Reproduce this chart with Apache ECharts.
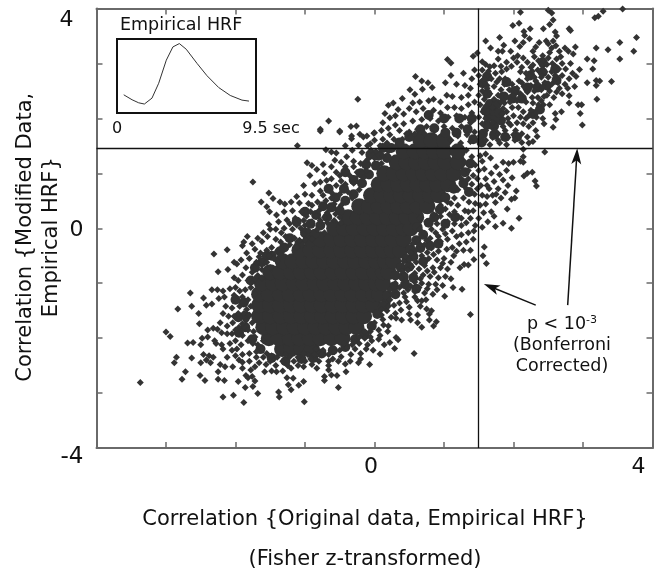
<!DOCTYPE html>
<html><head><meta charset="utf-8">
<style>html,body{margin:0;padding:0;background:#fff}#c{width:656px;height:568px}</style>
<script src="https://cdn.jsdelivr.net/npm/echarts@6/dist/echarts.min.js"></script>
</head><body><div id="c"></div>
<script>
// threshold values (Fisher z)
const thresholdX = 1.49, thresholdY = 1.45;
const axisTickLabels = ['-4', '0', '4'];
// dense mass of the cloud, read row by row: [y, [x...]]
const coreRows = [
[-2.2,[-1.33,-1.2,-1.05,-0.9]],
[-2.0,[-1.52,-1.38,-1.22,-1.08,-0.93,-0.78,-0.62,-0.46]],
[-1.8,[-1.6,-1.46,-1.3,-1.15,-1.0,-0.85,-0.7,-0.55,-0.4,-0.26]],
[-1.6,[-1.66,-1.5,-1.35,-1.2,-1.05,-0.9,-0.75,-0.6,-0.45,-0.3,-0.15]],
[-1.4,[-1.66,-1.5,-1.36,-1.2,-1.06,-0.9,-0.76,-0.6,-0.46,-0.3,-0.16,-0.02]],
[-1.2,[-1.66,-1.52,-1.36,-1.22,-1.06,-0.92,-0.76,-0.62,-0.46,-0.32,-0.16,-0.02,0.07]],
[-1.0,[-1.62,-1.46,-1.32,-1.16,-1.02,-0.86,-0.72,-0.56,-0.42,-0.26,-0.12,0.02,0.12]],
[-0.8,[-1.5,-1.36,-1.2,-1.06,-0.9,-0.76,-0.6,-0.46,-0.3,-0.16,0,0.12,0.2]],
[-0.6,[-1.32,-1.18,-1.02,-0.88,-0.72,-0.58,-0.42,-0.28,-0.12,0.02,0.15,0.27]],
[-0.4,[-1.08,-0.92,-0.78,-0.62,-0.48,-0.32,-0.18,-0.02,0.12,0.25,0.37]],
[-0.2,[-0.92,-0.78,-0.62,-0.48,-0.32,-0.18,-0.02,0.12,0.26,0.42]],
[0,[-0.58,-0.44,-0.3,-0.14,0,0.14,0.28,0.42,0.52]],
[0.2,[-0.38,-0.24,-0.1,0.04,0.18,0.32,0.46,0.6]],
[0.4,[-0.22,-0.08,0.06,0.2,0.34,0.48,0.62,0.76]],
[0.6,[-0.05,0.1,0.24,0.38,0.52,0.66,0.8,0.92]],
[0.8,[0.06,0.2,0.34,0.48,0.62,0.76,0.9,1.06]],
[1.0,[0.14,0.28,0.42,0.56,0.7,0.84,0.98,1.14]],
[1.2,[0.32,0.46,0.6,0.74,0.88,1.02,1.2]],
[1.4,[0.42,0.58,0.72,0.86,1.0,1.2]],
[1.6,[0.66,0.82,1.0]]
];
// crowded clumps next to the mass, where marks merge
const clumpPoints = [
[-1.3,-0.35],[-1.22,-0.18],[-1.08,-0.28],[-1.0,-0.08],[-0.86,-0.1],[-0.92,0.08],[-0.78,0.05],[-0.84,0.24],[-0.68,0.2],[-0.62,0.38],[-0.74,0.4],[-0.5,0.32],[-0.56,0.56],[-0.42,0.5],[-0.3,0.62],[-0.44,0.72],[-0.3,0.88],[-0.18,0.82],[-0.2,1.0],[-0.08,0.98],[-0.12,1.16],[0.02,1.14],[0.06,1.32],[0.18,1.28],[0.24,1.46],[0.36,1.56],[0.5,1.66],[0.66,1.8],[0.86,1.82],[1.02,1.74],[1.18,1.74],[1.34,1.8],[1.42,1.62],[-1.0,0.3],[-1.12,0.12],[-0.66,0.72],[-0.42,1.02],[-0.06,1.34],[0.12,1.46],[0.78,2.06],[1.0,2.0],[1.22,2.0],[1.4,2.0],
[0.62,0.02],[0.7,-0.12],[0.78,0.1],[0.86,0.2],[0.94,0.34],[0.6,-0.22],[0.52,-0.38],[0.66,-0.36],[0.46,-0.56],[0.56,-0.52],[0.38,-0.72],[0.5,-0.7],[0.3,-0.86],[0.42,-0.88],[0.28,-1.06],[0.18,-1.22],[0.3,-1.2],[0.16,-1.38],[0.04,-1.56],[0.12,-1.42],[-0.04,-1.78],[-0.14,-1.94],[-0.28,-2.02],[-0.42,-2.16],[-0.6,-2.22],[-0.76,-2.28],[1.02,0.56],[1.14,0.72],[1.28,0.82],[1.3,1.02],[1.38,1.18],[1.36,0.66],[1.16,0.2],[1.02,0.08],[0.8,-0.32],[0.7,-0.6],[0.56,-0.9],[0.44,-1.02],[0.92,-0.28],[0.6,-1.1],
[1.62,1.88],[1.72,1.86],[1.82,1.96],[1.64,2.02],[1.74,2.02],[1.6,2.14],[1.72,2.14],[1.8,2.1],[1.66,2.26],[1.76,2.26],[1.9,2.66],[1.86,2.4],[2.02,2.5],[2.2,2.56],[2.34,2.56],[2.48,2.6],[2.12,2.36],[1.98,2.36],[2.42,2.84],[2.24,2.78],[2.62,2.7],[2.6,2.9],[2.42,3.02],[1.56,2.64],[1.62,2.76],[1.56,1.72],[1.72,1.7],[1.88,1.66],[2.05,1.66],[1.54,1.56],[1.62,2.45],[2.28,2.08],[2.38,2.16],
[-1.85,-1.6],[-1.88,-1.35],[-1.86,-1.8],[-1.76,-2.02],[-1.64,-2.2],[-1.48,-2.36],[-1.28,-2.42],[-1.05,-2.38],[-0.88,-2.36],[-1.62,-0.62],[-1.72,-0.72],[-1.78,-0.95],[-1.48,-0.5],[-1.36,-0.42],[-1.55,-0.5],[-1.95,-1.9],[-1.96,-1.62],[-2.0,-1.3]
];
// individually read marks around the mass
const fringeUpperRight = [
[3.57,3.99],[3.29,3.95],[3.22,3.86],[3.17,3.83],[3.77,3.47],[3.53,3.38],[3.73,3.22],[3.53,3.08],[3.36,3.25],[3.19,3.28],[3.06,3.08],[3.16,3.05],[3.14,2.9],[3.41,2.67],[3.06,2.65],[3.19,2.69],[3.24,2.68],[3.19,2.6],[3.2,2.35],[2.95,2.89],[2.9,2.76],[2.88,2.58],[2.8,2.41],[2.8,2.28],[2.93,2.25],[2.98,2.25],[2.96,2.09],[2.99,1.88],[2.57,1.84],[2.69,2.12],[2.61,1.98],[2.6,2.09],[2.52,2.25],[2.43,2.25],[2.33,2.1],[2.34,1.67],[2.45,1.39],[2.14,1.44],
[2.5,3.97],[2.55,3.92],[2.1,3.93],[2.08,3.73],[1.99,3.69],[2.57,3.79],[2.52,3.71],[2.43,3.63],[2.24,3.63],[2.15,3.58],[2.16,3.51],[2.6,3.57],[2.62,3.5],[2.8,3.63],[2.82,3.6],[1.8,3.47],[1.6,3.41],[1.86,3.33],[2.02,3.41],[2.23,3.45],[2.37,3.38],[2.14,3.38],[2.09,3.31],[2.47,3.41],[2.57,3.41],[2.55,3.28],[2.89,3.3],[2.74,3.28],[2.79,3.22],[2.86,3.17],[2.28,3.22],[1.67,3.28],[1.78,3.22],[1.84,3.22],[1.48,3.19],[1.42,3.13],[1.05,3.07],[1.1,3.01],[2.32,3.3],[2.61,3.32],[2.5,3.36],[2.06,3.14],[2.0,3.1],[2.14,3.1],
[1.55,3.03],[1.6,2.98],[1.72,2.96],[1.78,3.08],[1.9,3.02],[1.97,2.95],[2.05,3.02],[2.12,2.93],[2.2,3.02],[2.28,2.97],[2.36,3.05],[2.42,2.95],[2.5,3.1],[2.56,3.0],[2.62,3.08],[2.7,3.0],[2.75,2.9],[2.82,3.0],[2.65,2.9],[2.55,2.85],[2.45,2.85],[2.35,2.88],[2.27,2.86],[2.18,2.82],[2.1,2.85],[1.9,2.9],[1.83,2.85],[1.74,2.82],[1.64,2.86],[1.55,2.88],[1.5,2.78],
[1.58,2.72],[1.68,2.72],[1.8,2.72],[1.87,2.62],[1.98,2.62],[2.08,2.68],[2.2,2.72],[2.3,2.75],[2.4,2.75],[2.5,2.75],[2.6,2.78],[2.7,2.78],[2.8,2.72],[2.74,2.62],[2.64,2.65],[2.55,2.62],[2.45,2.65],[2.35,2.62],[2.25,2.6],[2.15,2.58],[2.05,2.55],[1.94,2.52],[1.82,2.52],[1.72,2.58],[1.62,2.6],[1.52,2.62],
[1.55,2.5],[1.66,2.45],[1.78,2.42],[1.9,2.4],[2.0,2.42],[2.1,2.45],[2.2,2.48],[2.3,2.5],[2.4,2.52],[2.52,2.5],[2.62,2.48],[2.7,2.45],[2.05,2.32],[1.95,2.3],[1.87,2.28],[1.98,2.2],[2.07,2.2],[2.27,2.38],[2.35,2.38],[2.44,2.4],[2.28,2.28],[2.36,2.25],[2.25,2.15],[2.33,2.02],[2.22,2.05],[2.14,2.12],[2.1,2.02],[2.0,2.05],[1.9,2.12],[1.92,2.0],[1.84,2.08],[1.5,2.42],[1.58,2.35],[1.52,2.25],[1.56,2.12],[1.5,2.02],[1.55,1.9],[1.6,1.78],[1.52,1.68],[1.6,1.6],[1.7,1.65],[1.78,1.72],[1.88,1.78],[1.96,1.88],[2.05,1.92],[2.14,1.9],[2.22,1.85],[2.32,1.78],[2.03,1.78],[2.12,1.72],[2.2,1.66],[1.92,1.65],[2.02,1.6],[2.12,1.56],[2.22,1.55],[2.28,1.58],[1.8,1.55],[1.9,1.52],[1.66,1.52],[1.73,1.78],[2.42,2.0],[2.44,1.9],
[1.62,2.55],[1.72,2.35],[1.82,2.3],[1.7,2.2],[1.85,2.18],[1.6,2.22],[1.93,1.92],[1.85,1.85],[1.7,1.92],[1.6,2.0],[2.18,2.3],[2.12,2.36],[2.4,2.32],[2.48,2.42],[2.58,2.38],[2.66,2.55],[2.78,2.55],[2.85,2.82],[2.32,2.68],[2.42,2.58],[2.12,2.65],[1.88,2.72],[1.76,2.66],[1.66,2.94],[1.82,2.95],[2.25,2.93],[2.48,2.98],[2.6,2.95],[2.68,3.12],[2.42,3.14],[2.3,3.12],[1.96,3.22],[2.52,3.2],[2.66,3.22],[2.18,2.0],[2.28,1.92],[2.0,1.7],[1.78,1.6]
];
const fringeRight = [
[2.27,1.02],[2.31,0.86],[2.33,0.77],[2.15,0.95],[2.2,1.0],[2.04,0.68],[1.88,0.65],[1.97,0.53],[2.02,0.55],[1.91,0.35],[2.08,0.18],[1.85,0.09],[1.97,0],[1.74,0.47],[1.6,0.44],[2.14,1.3],[2.14,1.2],[2.1,1.22],[2.0,1.2],[1.93,1.18],[1.85,1.2],[1.75,1.12],[1.67,1.28],[1.6,1.35],[1.55,1.22],[1.58,1.08],[1.68,1.0],[1.8,0.98],[1.9,1.05],[1.98,0.92],[1.85,0.88],[1.72,0.85],[1.6,0.9],[1.53,0.78],[1.65,0.72],[1.78,0.72],[1.92,0.78],[1.55,0.6],[1.62,0.58],[1.75,0.62],[1.52,0.42],[1.57,0.28],[1.68,0.3],[1.72,0.22],[1.63,0.12],[1.74,0.03],[1.55,0.02],[1.45,0.05],[1.38,0.18],[1.42,0.32],[1.36,0.48],[1.44,0.62],[1.4,0.8],[1.42,0.96],[1.45,1.15],[1.4,1.3],[1.32,0.1],[1.3,0.32],[1.28,0.55],[1.32,0.72],[1.35,0.9],[1.25,0.05],[1.2,0.22],[1.15,0.3],[1.05,0.12],[1.12,-0.05],[1.25,-0.12],[1.35,-0.08],[1.43,-0.05],[1.58,-0.34],[1.56,-0.5],[1.61,-0.64],[1.43,-0.57],[1.35,-0.67],[1.29,-0.66],[1.23,-0.72],[1.26,-1.11],[1.13,-1.08],[1.01,-1.24],[1.38,-1.57],[1.28,-0.4],[1.22,-0.28],[1.18,-0.42],[1.12,-0.35],[1.05,-0.2],[0.98,-0.02],[0.9,0.08],[0.82,-0.02],[0.95,0.22],[1.02,0.35],[1.1,0.45],[1.2,0.42],
[1.3,1.2],[1.35,1.05],[1.25,0.9],[1.2,0.7],[1.15,0.55],[1.05,0.48],[0.95,0.42],[0.85,0.25],[0.75,0.12],[0.65,-0.02],[1.08,0.25],[1.25,0.18],[1.35,0.3],[1.45,0.45],[1.5,0.18],[1.48,0.9],[1.5,1.05],[1.52,1.32],[1.48,0.72],[1.62,0.78],[1.7,0.6],[1.82,0.55],[1.15,0.08],[1.18,-0.15],[1.02,-0.1],[0.92,-0.15],[0.75,-0.22],[1.32,-0.25],[1.42,-0.2],[1.38,-0.4],[0.65,0.18]
];
const fringeLowerRight = [
[0.82,-1.5],[0.75,-1.47],[0.79,-1.56],[0.79,-1.67],[0.89,-1.7],[0.85,-1.78],[0.68,-1.8],[0.62,-1.72],[0.62,-1.58],[0.52,-1.67],[0.5,-1.56],[0.38,-1.49],[0.39,-1.67],[0.3,-1.55],[0.31,-1.64],[0.13,-1.76],[0.19,-1.88],[0.31,-1.99],[0.34,-2.03],[0.29,-2.19],[0.57,-2.28],[0.08,-2.29],[0.68,-1.32],[0.62,-1.32],[0.46,-1.34],[0.44,-1.25],
[0.72,-0.1],[0.8,-0.18],[0.88,-0.08],[0.95,-0.24],[1.04,-0.38],[0.92,-0.42],[0.82,-0.36],[0.72,-0.3],[0.62,-0.2],[0.6,-0.4],[0.68,-0.5],[0.78,-0.55],[0.9,-0.58],[1.0,-0.55],[1.1,-0.62],[1.05,-0.74],[0.95,-0.72],[0.84,-0.72],[0.72,-0.68],[0.6,-0.62],[0.5,-0.58],[0.48,-0.76],[0.58,-0.82],[0.7,-0.85],[0.8,-0.88],[0.92,-0.9],[1.02,-0.88],[1.1,-0.92],[0.98,-1.04],[0.88,-1.02],[0.78,-1.02],[0.68,-1.0],[0.58,-0.98],[0.46,-0.96],[0.38,-0.9],[0.36,-1.08],[0.48,-1.12],[0.58,-1.15],[0.72,-1.18],[0.84,-1.2],[0.3,-1.22],[0.22,-1.3],[0.28,-1.4],[0.18,-1.5],[0.1,-1.58],[0.0,-1.72],[0.06,-1.85],[-0.06,-1.88],[-0.14,-2.0],[-0.04,-2.05],[0.06,-2.02],[-0.22,-2.1],[-0.12,-2.2],[-0.02,-2.22],[-0.23,-2.45],[-0.07,-2.48],[-0.41,-2.61],[-0.42,-2.47],[-0.35,-2.42],[-0.34,-2.3],[-0.28,-2.2],[-0.2,-2.28],[-0.4,-2.18],[-0.5,-2.22],[-0.48,-2.34],[-0.58,-2.25],[-0.66,-2.3],[-0.6,-2.38],
[0.55,-0.28],[0.52,-0.45],[0.42,-0.6],[0.4,-0.78],[0.3,-1.0],[0.42,-1.18],[0.22,-1.12],[0.2,-1.42],[0.12,-1.66],[0.1,-1.48],[0.24,-1.62],[0.36,-1.36],[0.5,-1.44],[0.58,-1.25],[0.66,-1.42],[0.74,-1.3],[0.52,-1.05],[0.64,-1.08],[0.76,-1.1],[0.9,-1.12],[0.66,-0.92],[0.86,-0.8],[0.76,-0.78],[0.64,-0.74],[0.54,-0.7],[0.98,-0.64],[1.14,-0.5],[0.85,-0.48],[0.76,-0.44],[0.66,-0.3],[0.2,-1.78],[0.08,-1.95],[-0.06,-1.98],[-0.14,-1.88],[-0.22,-1.98],[-0.3,-2.06],[-0.32,-2.12],[-0.44,-2.1],[-0.1,-2.12],[0.14,-2.12],[0.22,-2.08],[-0.2,-2.38],[-0.52,-2.42],[-0.74,-2.22],[-0.84,-2.2],[-0.96,-2.3]
];
const fringeBottom = [
[-0.52,-2.9],[-0.54,-2.68],[-0.62,-2.67],[-0.72,-2.7],[-0.72,-2.77],[-0.66,-2.42],[-0.66,-2.5],[-0.66,-2.58],[-0.83,-2.55],[-0.9,-2.48],[-1.02,-2.79],[-1.09,-2.86],[-1.2,-2.94],[-1.24,-2.85],[-1.17,-2.73],[-1.26,-2.72],[-1.41,-2.61],[-1.58,-2.61],[-1.72,-2.78],[-1.75,-2.88],[-1.86,-2.9],[-1.96,-2.79],[-2.16,-2.77],[-2.25,-2.75],[-2.25,-2.61],[-2.22,-2.48],[-2.15,-2.52],[-2.04,-2.52],[-2.18,-3.07],[-2.03,-3.04],[-1.88,-3.17],[-1.68,-3.01],[-1.38,-2.98],[-1.37,-3.07],[-1.01,-3.16],
[-0.8,-2.42],[-0.92,-2.38],[-1.02,-2.52],[-1.1,-2.5],[-1.0,-2.42],[-1.16,-2.42],[-1.25,-2.5],[-1.32,-2.42],[-1.32,-2.6],[-1.4,-2.35],[-1.48,-2.6],[-1.5,-2.42],[-1.6,-2.35],[-1.66,-2.45],[-1.72,-2.52],[-1.78,-2.58],[-1.8,-2.42],[-1.85,-2.68],[-1.9,-2.55],[-1.82,-2.72],[-1.76,-2.7],[-1.95,-2.4],[-1.9,-2.3],[-2.0,-2.32],[-1.8,-2.28],[-1.7,-2.25],[-1.62,-2.2],[-1.55,-2.28],[-1.48,-2.32],[-1.1,-2.35],[-0.86,-2.3],[-0.76,-2.3],[-1.22,-2.34],[-1.9,-2.44],
[-1.75,-2.1],[-1.68,-2.12],[-1.72,-1.98],[-1.6,-2.05],[-1.42,-2.5],[-1.2,-2.55],[-1.56,-2.48],[-1.7,-2.35],[-1.28,-2.3],[-1.02,-2.28]
];
const fringeLowerLeft = [
[-3.37,-2.81],[-3,-1.89],[-2.94,-1.97],[-2.83,-1.47],[-2.65,-1.18],[-2.63,-1.42],[-2.46,-1.27],[-2.53,-1.55],[-2.52,-1.74],[-2.31,-0.47],[-2.12,-0.39],[-2.25,-0.79],[-2.11,-0.75],[-2.34,-1.12],[-2.69,-2.09],[-2.61,-2.08],[-2.5,-2.12],[-2.85,-2.35],[-2.88,-2.45],[-2.63,-2.36],[-2.72,-2.61],[-2.77,-2.75],[-2.51,-2.68],[-2.44,-2.77],
[-2.42,-2.4],[-2.38,-2.32],[-2.46,-2.3],[-2.32,-2.35],[-2.5,-2.45],[-2.36,-2.45],[-2.28,-2.1],[-2.2,-2.12],[-2.18,-2.2],[-2.3,-2.05],[-2.4,-1.85],[-2.32,-1.82],[-2.26,-1.84],[-2.2,-1.9],[-2.12,-1.92],[-2.48,-2.0],[-2.4,-1.98],[-2.22,-1.72],[-2.12,-1.78],[-2.04,-1.72],[-1.95,-1.8],[-2.05,-1.92],[-2.08,-2.1],[-2.0,-2.05],[-1.92,-2.12],[-1.82,-2.05],[-2.05,-2.22],[-1.98,-2.2],[-2.12,-2.35],
[-2.42,-1.4],[-2.34,-1.38],[-2.26,-1.12],[-2.18,-1.14],[-2.16,-1.25],[-2.24,-1.28],[-2.08,-1.1],[-2.0,-1.08],[-2.14,-1.42],[-2.05,-1.45],[-2.18,-1.55],[-2.1,-1.6],[-2.02,-1.6],[-1.94,-1.42],[-1.88,-1.55],[-1.85,-1.68],[-1.9,-1.25],[-1.82,-1.3],[-1.86,-1.12],[-1.96,-0.95],[-2.02,-0.9],[-1.9,-0.85],[-1.98,-0.65],[-2.02,-0.62],[-1.92,-0.58],[-1.8,-0.55],[-1.85,-0.72],[-1.76,-0.8],[-1.72,-0.92],[-1.82,-0.95],[-1.78,-1.08],[-1.84,-0.45],[-1.9,-0.32],[-1.83,-0.15],[-1.88,-0.25],[-1.72,-0.38],[-1.64,-0.45],[-1.76,-0.28],[-1.62,-0.24],[-1.54,-0.15],[-1.68,-0.18],[-1.6,-0.6],[-1.55,-0.4],[-1.7,-0.62],[-1.62,-0.75],[-1.55,-0.62],[-1.45,-0.55],[-1.48,-0.35],[-1.4,-0.42],[-1.35,-0.25],[-1.42,-0.2],[-1.5,-0.02],
[-1.78,-1.42],[-1.84,-1.48],[-1.8,-1.58],[-1.76,-1.72],[-1.9,-1.74],[-1.82,-1.85],[-1.74,-1.88],[-1.9,-1.95],[-1.98,-1.32],[-2.02,-1.22],[-1.94,-1.14],[-1.72,-1.2],[-1.68,-0.86],[-1.62,-0.9],[-1.5,-0.72],[-1.96,-1.55],[-2.0,-1.85],[-1.66,-0.52],[-1.52,-0.5],[-1.4,-0.6]
];
const fringeUpperLeft = [
[-0.24,2.35],[-0.66,1.95],[-0.78,1.8],[-0.5,1.77],[-0.34,1.85],[-0.26,1.86],[-1.11,1.5],[-0.33,1.68],[-0.21,1.71],[-0.11,1.68],
[0.59,2.76],[0.68,2.68],[0.77,2.65],[0.83,2.56],[0.51,2.52],[0.69,2.53],[0.58,2.44],[0.4,2.36],[0.27,2.28],[0.2,2.24],[0.34,2.16],[0.15,2.09],[0.22,2.01],[0.12,1.92],[0,1.74],[1.02,2.65],[1.1,2.78],[1.28,2.82],[1.18,2.62],[1.3,2.6],[1.38,2.55],[1.44,2.88],[1.4,2.72],[1.35,2.42],[1.25,2.38],[1.12,2.4],[1.04,2.42],[0.95,2.3],[0.85,2.35],[0.78,2.32],[0.65,2.3],[0.55,2.28],[0.7,2.18],[0.6,2.12],[0.5,2.18],[0.42,2.08],[0.3,2.05],[0.85,2.15],[0.95,2.1],[1.05,2.2],[1.15,2.2],[1.25,2.18],[1.35,2.25],[1.44,2.3],[1.4,2.1],[1.3,2.02],[1.18,2.05],[1.06,2.02],[0.92,1.95],[0.8,2.0],[0.68,1.98],[0.55,1.95],[0.42,1.9],[0.3,1.88],[0.2,1.82],[0.1,1.78],[0.5,1.75],[0.62,1.8],[0.75,1.85],[0.88,1.8],[1.0,1.85],[1.12,1.82],[1.25,1.85],[1.38,1.92],[1.44,1.75],[1.33,1.7],[1.2,1.68],[1.38,1.58],
[-1.75,0.84],[-1.52,0.64],[-1.46,0.54],[-1.63,0.48],[-1.55,0.39],[-1.51,0.3],[-1.52,0.07],[-1.36,0.48],[-1.29,0.44],[-1.41,0.24],[-0.97,1.19],[-0.9,1.14],[-0.83,1.07],[-0.74,1.16],[-0.7,1.43],[-0.62,1.39],[-0.55,1.37],[-0.57,1.24],[-0.93,0.96],[-1.02,0.78],[-0.86,0.81],[-0.78,0.84],[-0.69,0.87],[-0.55,1.02],[-0.5,0.96],[-0.4,1.3],[-0.33,1.63],[-0.16,1.66],[-0.23,1.51],[-0.06,1.54],[-0.78,1.77],[-0.5,1.75],[-0.01,1.73],
[-0.42,1.5],[-0.32,1.42],[-0.18,1.38],[-0.05,1.42],[0.08,1.5],[0.18,1.55],[0.28,1.62],[-0.3,1.22],[-0.42,1.12],[-0.2,1.18],[-0.1,1.25],[0,1.28],[0.12,1.32],[-0.35,0.95],[-0.25,1.02],[-0.12,1.05],[-0.42,0.8],[-0.55,0.78],[-0.3,0.82],[-0.62,0.65],[-0.5,0.62],[-0.38,0.66],[-0.78,0.68],[-0.9,0.6],[-1.0,0.62],[-1.12,0.58],[-1.2,0.48],[-1.08,0.46],[-0.95,0.45],[-0.82,0.48],[-0.7,0.5],[-0.58,0.44],[-0.48,0.42],[-1.3,0.3],[-1.18,0.32],[-1.05,0.3],[-0.92,0.3],[-0.8,0.32],[-0.68,0.28],[-0.56,0.26],[-1.38,0.12],[-1.26,0.15],[-1.14,0.18],[-1.02,0.14],[-0.9,0.12],[-0.78,0.14],[-0.68,0.1],[-1.6,-0.08],[-1.42,-0.02],[-1.3,0.0],[-1.18,-0.02],[-1.06,0.0],[-0.95,-0.04],[-0.82,-0.02],[-0.72,-0.08],[-1.28,-0.15],[-1.15,-0.18],[-1.02,-0.12],[-1.22,-0.3],[-1.12,-0.34],
[-0.62,1.12],[-0.48,1.2],[-0.72,1.0],[-0.62,0.9],[-0.48,0.86],[-0.3,1.12],[-0.16,0.92],[-0.22,0.7],[-0.32,0.55],[-0.42,0.52],[-0.62,0.55],[-0.74,0.6],[-0.9,0.42],[-0.98,0.22],[-0.84,0.22],[-0.72,0.2],[-0.58,0.14],[-0.5,0.2],[-0.48,0.1],[0.1,1.18],[0.2,1.4],[0.3,1.48],[0.02,1.4],[-0.1,1.5],[0.0,1.6],[0.12,1.62],[0.4,1.62],[0.46,1.72],[0.58,1.72],[0.72,1.72],[0.85,1.68],[1.1,1.6],[1.24,1.55],[1.32,1.42],[0.22,1.7],[0.36,1.78],[-1.0,-0.22],[-0.9,-0.2],[-1.08,-0.22],[-1.34,-0.08],[-1.22,0.08],[-1.12,0.06],[-1.0,0.05]
];
// inset: empirical haemodynamic response
const hrfSeconds = [0.46,1.03,1.48,1.87,2.39,2.85,3.37,3.82,4.26,4.73,5.47,6.15,6.95,7.74,8.54,9.02];
const hrfValues = [0.246,0.179,0.138,0.121,0.201,0.402,0.714,0.893,0.938,0.862,0.67,0.504,0.344,0.237,0.174,0.161];
// arrows from the annotation: [fromX, fromY, toX, toY]
const arrowToVertical = [2.32,-1.4,1.68,-1.07];
const arrowToHorizontal = [2.78,-1.4,2.91,1.31];
const annotationLines = ['p < 10', '-3', '(Bonferroni', 'Corrected)'];

const corePoints = coreRows.flatMap(r => r[1].map(x => [x, r[0]]));
const fringePoints = [].concat(fringeUpperRight, fringeRight, fringeLowerRight, fringeBottom, fringeLowerLeft, fringeUpperLeft);
const INK = '#333333', FONT = '"DejaVu Sans", Verdana, sans-serif';
const AX = '#6a6a6a';
const ARROW = 'path://M5,0 L10,16 L5,12 L0,16 Z';
const chart = echarts.init(document.getElementById('c'), null, {renderer:'canvas'});
const pad = { x4:[0,28,0,0], x0:[0,7,0,0], y4:[24,10,0,0], y0:[4,0,0,0], ym4:[18,0,0,0] };
const mirrorAxis = {type:'value',gridIndex:0,min:-4,max:4,interval:1,splitLine:{show:false},axisLabel:{show:false},
  axisLine:{show:true,onZero:false,lineStyle:{color:AX,width:2}},axisTick:{inside:true,length:6,lineStyle:{color:AX,width:1.5}}};
chart.setOption({
  animation:false,
  backgroundColor:'#fff',
  title:{text:'Empirical HRF',left:115,top:11,textStyle:{fontFamily:FONT,fontSize:17.5,fontWeight:'normal',color:'#111'}},
  grid:[
    {left:96.5,right:3.5,top:8.5,height:439.5,show:false,containLabel:false,outerBoundsMode:'none'},
    {left:117,top:39,width:139,height:74,show:true,borderColor:'#111',borderWidth:2,backgroundColor:'#fff',z:5,containLabel:false,outerBoundsMode:'none'}
  ],
  xAxis:[
    {type:'value',gridIndex:0,min:-4,max:4,interval:1,splitLine:{show:false},
     axisLine:{show:true,onZero:false,lineStyle:{color:AX,width:2}},
     axisTick:{inside:true,length:6,lineStyle:{color:AX,width:1.5}},
     axisLabel:{margin:8,fontFamily:FONT,fontSize:22,color:'#111',showMinLabel:true,showMaxLabel:true,
       formatter:v=>v===4?'{a|'+axisTickLabels[2]+'}':v===0?'{b|'+axisTickLabels[1]+'}':'',
       rich:{a:{fontFamily:FONT,fontSize:22,color:'#111',padding:pad.x4},b:{fontFamily:FONT,fontSize:22,color:'#111',padding:pad.x0}}},
     name:'Correlation {Original data, Empirical HRF}\n(Fisher z-transformed)',nameLocation:'middle',nameGap:52,nameMoveOverlap:false,
     nameTextStyle:{fontFamily:FONT,fontSize:21,color:'#111',lineHeight:40,padding:[0,19,0,0]}},
    {type:'value',gridIndex:1,min:0,max:9.5,interval:9.5,splitLine:{show:false},
     axisLine:{show:false},axisTick:{show:false},
     axisLabel:{margin:8,fontFamily:FONT,fontSize:16,color:'#111',showMinLabel:true,showMaxLabel:true,
       formatter:v=>v===0?'0':'{s|9.5 sec}',rich:{s:{fontFamily:FONT,fontSize:16,color:'#111',padding:[0,0,0,30]}}}},
    Object.assign({position:'top'},mirrorAxis)
  ],
  yAxis:[
    {type:'value',gridIndex:0,min:-4,max:4,interval:1,splitLine:{show:false},
     axisLine:{show:true,onZero:false,lineStyle:{color:AX,width:2}},
     axisTick:{inside:true,length:6,lineStyle:{color:AX,width:1.5}},
     axisLabel:{margin:13,fontFamily:FONT,fontSize:22,color:'#111',showMinLabel:true,showMaxLabel:true,
       formatter:v=>v===4?'{a|'+axisTickLabels[2]+'}':v===0?'{b|'+axisTickLabels[1]+'}':v===-4?'{c|'+axisTickLabels[0]+'}':'',
       rich:{a:{fontFamily:FONT,fontSize:22,color:'#111',padding:pad.y4},b:{fontFamily:FONT,fontSize:22,color:'#111',padding:pad.y0},c:{fontFamily:FONT,fontSize:23,color:'#111',padding:pad.ym4}}},
     name:'Correlation {Modified Data,\nEmpirical HRF}',nameLocation:'middle',nameGap:32,nameRotate:90,nameMoveOverlap:false,
     nameTextStyle:{fontFamily:FONT,fontSize:21,color:'#111',lineHeight:26,padding:[0,18,0,0]}},
    {type:'value',gridIndex:1,min:0,max:1,show:false},
    Object.assign({position:'right'},mirrorAxis)
  ],
  series:[
    {name:'dense mass',type:'scatter',xAxisIndex:0,yAxisIndex:0,data:corePoints,symbol:'circle',symbolSize:16,itemStyle:{color:INK,opacity:1},silent:true},
    {name:'crowded clumps',type:'scatter',xAxisIndex:0,yAxisIndex:0,data:clumpPoints,symbol:'circle',symbolSize:10,itemStyle:{color:INK,opacity:1},silent:true},
    {name:'correlations',type:'scatter',xAxisIndex:0,yAxisIndex:0,data:fringePoints,symbol:'diamond',symbolSize:7,itemStyle:{color:INK,opacity:1},silent:true,
     markLine:{silent:true,symbol:'none',label:{show:false},animation:false,
       data:[
         {xAxis:thresholdX,lineStyle:{color:'#111',width:1.3,type:'solid'}},
         {yAxis:thresholdY,lineStyle:{color:'#111',width:1.3,type:'solid'}},
         [{coord:arrowToVertical.slice(0,2),symbol:'none'},{coord:arrowToVertical.slice(2,4),symbol:ARROW,symbolSize:[10,16],lineStyle:{color:'#111',width:1.5,type:'solid'}}],
         [{coord:arrowToHorizontal.slice(0,2),symbol:'none'},{coord:arrowToHorizontal.slice(2,4),symbol:ARROW,symbolSize:[10,16],lineStyle:{color:'#111',width:1.5,type:'solid'}}]
       ]}},
    {name:'Empirical HRF',type:'line',xAxisIndex:1,yAxisIndex:1,data:hrfSeconds.map((s,i)=>[s,hrfValues[i]]),showSymbol:false,lineStyle:{color:'#333',width:1},z:6}
  ],
  graphic:[
    {type:'text',z:10,x:562,y:324,style:{text:annotationLines[0]+'{s|'+annotationLines[1]+'}',align:'center',verticalAlign:'middle',fontFamily:FONT,fontSize:17.5,fill:'#111',rich:{s:{fontFamily:FONT,fontSize:11,verticalAlign:'top',fill:'#111'}}}},
    {type:'text',z:10,x:562,y:345,style:{text:annotationLines[2],align:'center',verticalAlign:'middle',fontFamily:FONT,fontSize:17.5,fill:'#111'}},
    {type:'text',z:10,x:562,y:366,style:{text:annotationLines[3],align:'center',verticalAlign:'middle',fontFamily:FONT,fontSize:17.5,fill:'#111'}}
  ]
});
</script></body></html>
